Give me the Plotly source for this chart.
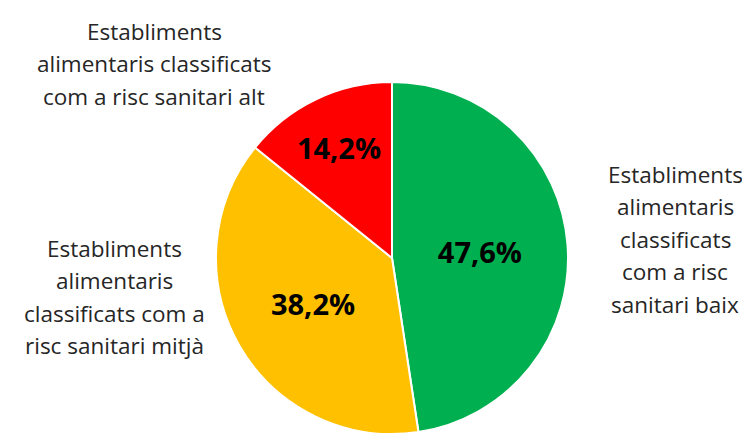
"""Pie chart of food establishments by sanitary risk class, built with Plotly."""

import plotly.graph_objects as go

# Data
labels = [
    "Establiments<br>alimentaris<br>classificats<br>com a risc<br>sanitari baix",
    "Establiments<br>alimentaris<br>classificats com a<br>risc sanitari mitjà",
    "Establiments<br>alimentaris classificats<br>com a risc sanitari alt",
]
values = [47.6, 38.2, 14.2]
colors = ["#00B050", "#FFC000", "#FF0000"]

# page body has an 8px margin, so the figure is a little smaller than the window
W, H = 742, 426
cx, cy, r = 384, 250, 176

# where each category's label block sits (figure px: centre x, first line y)
label_pos = [(667, 166), (106, 240), (146, 23)]
line_pitch = 32.5

fig = go.Figure()
fig.add_trace(go.Pie(
    labels=[lab.replace("<br>", " ") for lab in labels],
    values=values,
    sort=False,
    direction="clockwise",
    rotation=0,
    marker=dict(colors=colors, line=dict(color="white", width=2)),
    texttemplate="%{value:.1f}%",
    textposition="inside",
    insidetextorientation="horizontal",
    textfont=dict(family="Open Sans", size=29, color="black", weight="bold"),
    showlegend=False,
    hoverinfo="label+percent",
    domain=dict(x=[(cx - r) / W, (cx + r) / W],
                y=[max(0, (H - cy - r) / H), min(1, (H - cy + r) / H)]),
))

# Category labels, one annotation per line to control spacing
for lab, (lx, ly) in zip(labels, label_pos):
    for i, line in enumerate(lab.split("<br>")):
        fig.add_annotation(
            x=lx / W, y=1 - (ly + i * line_pitch) / H,
            xref="paper", yref="paper",
            text=line, showarrow=False,
            xanchor="center", yanchor="middle",
            font=dict(family="Open Sans", size=22.5, color="#262626"),
        )

fig.update_layout(
    width=W,
    height=H,
    margin=dict(l=0, r=0, t=0, b=0),
    paper_bgcolor="white",
    plot_bgcolor="white",
    separators=",.",
)

fig.write_html("out.html")
